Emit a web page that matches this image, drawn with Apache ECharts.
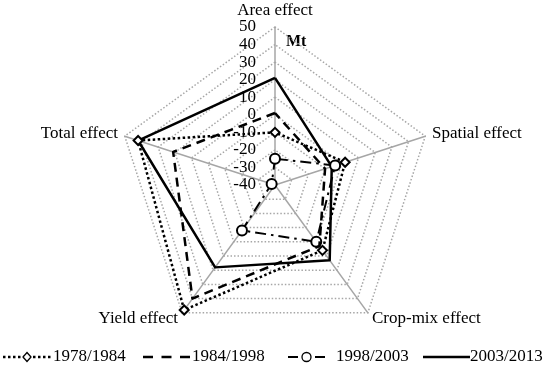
<!DOCTYPE html>
<html><head><meta charset="utf-8">
<script src="https://cdn.jsdelivr.net/npm/echarts@6/dist/echarts.min.js"></script>
<style>html,body{margin:0;padding:0;background:#fff}#c{width:550px;height:373px}</style>
</head><body><div id="c"></div>
<script>
// ---- data (clockwise order from the top) ----
const indicators = ['Area effect', 'Spatial effect', 'Crop-mix effect', 'Yield effect', 'Total effect'];
const seriesNames = ['1978/1984', '1984/1998', '1998/2003', '2003/2013'];
const v1978_1984 = [-10, 2, 6, 48, 42];
const v1984_1998 = [1, -10, 3, 40, 21];
const v1998_2003 = [-25, -4, 0, -8, -38];
const v2003_2013 = [21, -6, 13, 18, 42];
const axisMin = -40, axisMax = 50, axisStep = 10;
const unitLabel = 'Mt';

// ECharts radar runs counter-clockwise; reorder to draw clockwise
const order = [0, 4, 3, 2, 1];
const reorder = arr => order.map(k => arr[k]);

// ---- styles ----
const FONT = 'Liberation Serif';
const styles = [
  { dash: [2.5, 2.5], width: 2.5, symbol: 'emptyDiamond', size: 9 },
  { dash: [9, 6], width: 2.5, symbol: 'none', size: 0 },
  { dash: [11, 5, 2.5, 5], width: 2, symbol: 'emptyCircle', size: 10 },
  { dash: 'solid', width: 2.5, symbol: 'none', size: 0 }
];
const values = [v1978_1984, v1984_1998, v1998_2003, v2003_2013];

const chart = echarts.init(document.getElementById('c'), null, { renderer: 'canvas' });

const series = seriesNames.map((n, i) => ({
  type: 'radar',
  name: n,
  symbol: styles[i].symbol,
  symbolSize: styles[i].size,
  lineStyle: { color: '#000', width: styles[i].width, type: styles[i].dash },
  itemStyle: { color: '#000', borderColor: '#000', borderWidth: 1.3 },
  z: 10 - i,
  data: [{ value: reorder(values[i]), name: n }]
}));

// legend drawn as graphic elements
const legendX = [3, 143, 288, 423];
const legendLineW = [48, 47, 37, 47];
const legendTextX = [53, 192, 336, 470];
const legendY = 357;
const legendGraphics = [];
seriesNames.forEach((n, i) => {
  const x0 = legendX[i], x1 = legendX[i] + legendLineW[i];
  let dash = styles[i].dash === 'solid' ? null : styles[i].dash;
  if (i === 2) dash = [10, 17];
  if (i === 1) dash = [10, 8.5];
  legendGraphics.push({
    type: 'line', shape: { x1: x0, y1: legendY, x2: x1, y2: legendY },
    style: { stroke: '#000', lineWidth: styles[i].width, lineDash: dash }
  });
  if (styles[i].symbol !== 'none') {
    const cx = (x0 + x1) / 2;
    if (i === 0) {
      legendGraphics.push({ type: 'polygon', shape: { points: [[cx, legendY - 4.5], [cx + 4, legendY], [cx, legendY + 4.5], [cx - 4, legendY]] },
        style: { fill: '#fff', stroke: '#000', lineWidth: 1.3 } });
    } else {
      legendGraphics.push({ type: 'circle', shape: { cx: cx, cy: legendY, r: 4.5 }, style: { fill: '#fff', stroke: '#000', lineWidth: 1.3 } });
    }
  }
  legendGraphics.push({ type: 'text', x: legendTextX[i], y: legendY,
    style: { text: n, font: '17px "' + FONT + '"', fill: '#000', textVerticalAlign: 'middle', verticalAlign: 'middle' } });
});

const option = {
  backgroundColor: '#fff',
  animation: false,
  radar: {
    center: [275, 185],
    radius: 158,
    startAngle: 90,
    shape: 'polygon',
    splitNumber: (axisMax - axisMin) / axisStep,
    nameGap: 7,
    axisName: { color: '#000', fontFamily: FONT, fontSize: 17 },
    axisLine: { lineStyle: { color: '#a6a6a6', width: 1.5 } },
    splitLine: { lineStyle: { color: '#a6a6a6', width: 1.5, type: [1.5, 2] } },
    splitArea: { show: false },
    axisTick: { show: false },
    axisLabel: { show: false, color: '#000', fontFamily: FONT, fontSize: 17, margin: 19 },
    indicator: reorder(indicators).map((n, i) => ({
      name: n, min: axisMin, max: axisMax,
      axisLabel: { show: i === 0 }
    }))
  },
  graphic: [
    { type: 'text', x: 286, y: 42, style: { text: unitLabel, font: 'bold 16px "' + FONT + '"', fill: '#000', textVerticalAlign: 'middle', verticalAlign: 'middle' } }
  ].concat(legendGraphics),
  series: series
};
chart.setOption(option);
</script>
</body></html>
